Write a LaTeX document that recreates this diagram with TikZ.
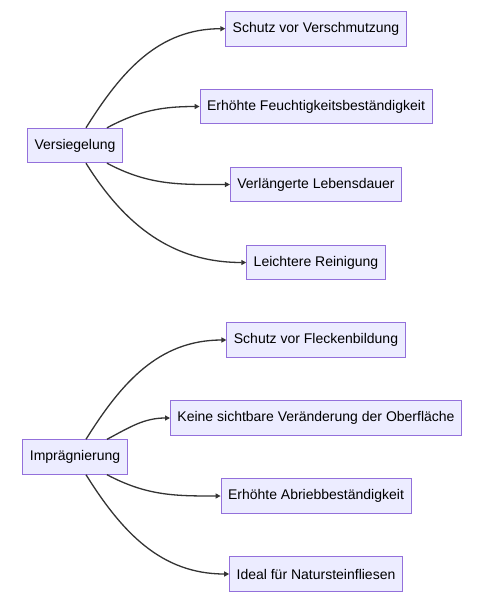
\documentclass[tikz,border=0pt]{standalone}
\usepackage{fontspec}
\setmainfont{Liberation Sans}
\usetikzlibrary{arrows.meta}

\tikzset{
  box/.style={draw=boxline, fill=boxfill, line width=0.9pt, inner xsep=7pt,
    minimum height=34.5pt, font=\fontsize{14}{16}\selectfont},
  link/.style={draw=linkcol, line width=1.3pt, -{Triangle[length=5pt,width=5pt]}}
}
\definecolor{boxfill}{HTML}{ECECFF}
\definecolor{boxline}{HTML}{9370DB}
\definecolor{linkcol}{HTML}{333333}

\begin{document}
\begin{tikzpicture}[x=1pt,y=-1pt]
        \useasboundingbox (0,0) rectangle (488,600);

        % Versiegelung
        \node[box] (vs) at (75,145.5) {Versiegelung};
        \node[box] (vs1) at (316,28.7) {Schutz vor Verschmutzung};
        \node[box] (vs2) at (316,106.5) {Erhöhte Feuchtigkeitsbeständigkeit};
        \node[box] (vs3) at (316,184.5) {Verlängerte Lebensdauer};
        \node[box] (vs4) at (316,262.5) {Leichtere Reinigung};

        \draw[link] ([xshift=11pt]vs.north) to[out=58,in=180] (vs1.west);
        \draw[link] ([xshift=32pt]vs.north) to[out=28,in=180] (vs2.west);
        \draw[link] ([xshift=32pt]vs.south) to[out=-28,in=180] (vs3.west);
        \draw[link] ([xshift=11pt]vs.south) to[out=-58,in=180] (vs4.west);

        % Impraegnierung
        \node[box] (im) at (75,457) {Imprägnierung};
        \node[box] (im1) at (316,340) {Schutz vor Fleckenbildung};
        \node[box] (im2) at (316,418) {Keine sichtbare Veränderung der Oberfläche};
        \node[box] (im3) at (316,496) {Erhöhte Abriebbeständigkeit};
        \node[box] (im4) at (316,574) {Ideal für Natursteinfliesen};

        \draw[link] ([xshift=11pt]im.north) to[out=58,in=180] (im1.west);
        \draw[link] ([xshift=32pt]im.north) to[out=28,in=180] (im2.west);
        \draw[link] ([xshift=32pt]im.south) to[out=-28,in=180] (im3.west);
        \draw[link] ([xshift=11pt]im.south) to[out=-58,in=180] (im4.west);

\end{tikzpicture}
\end{document}
